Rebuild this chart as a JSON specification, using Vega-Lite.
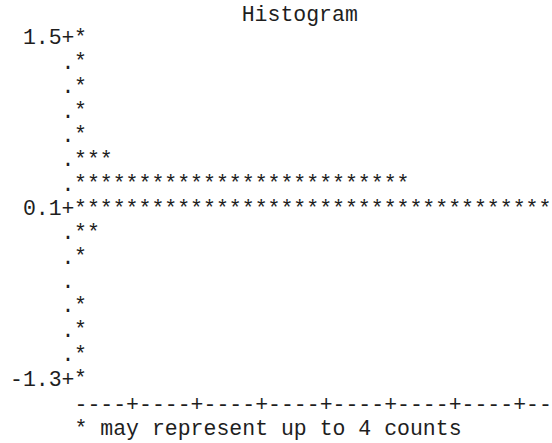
{
  "$schema": "https://vega.github.io/schema/vega-lite/v6.json",
  "width": 478,
  "height": 370,
  "autosize": {"type": "none"},
  "padding": {"left": 74, "top": 30, "right": 0, "bottom": 43},
  "background": "white",
  "title": {
    "text": "Histogram",
    "frame": "group",
    "anchor": "start",
    "dx": 167.7,
    "offset": -16,
    "baseline": "alphabetic",
    "font": "Liberation Mono",
    "fontSize": 21.5,
    "fontWeight": "normal",
    "color": "#1e1e1e"
  },
  "data": {
    "values": [
      {"bin": 1.5, "stars": 1},
      {"bin": 1.3, "stars": 1},
      {"bin": 1.1, "stars": 1},
      {"bin": 0.9, "stars": 1},
      {"bin": 0.7, "stars": 1},
      {"bin": 0.5, "stars": 3},
      {"bin": 0.3, "stars": 26},
      {"bin": 0.1, "stars": 37},
      {"bin": -0.1, "stars": 2},
      {"bin": -0.3, "stars": 1},
      {"bin": -0.5, "stars": 0},
      {"bin": -0.7, "stars": 1},
      {"bin": -0.9, "stars": 1},
      {"bin": -1.1, "stars": 1},
      {"bin": -1.3, "stars": 1}
    ]
  },
  "transform": [{"calculate": "pad('', datum.stars, '*')", "as": "bar"}],
  "mark": {
    "type": "text",
    "align": "left",
    "baseline": "alphabetic",
    "font": "Liberation Mono",
    "fontSize": 21.5,
    "color": "#1e1e1e"
  },
  "encoding": {
    "x": {
      "datum": 0,
      "type": "quantitative",
      "scale": {"domain": [0, 37.05], "nice": false, "zero": false},
      "axis": {
        "title": ["----+----+----+----+----+----+----+--", "* may represent up to 4 counts"],
        "labels": false,
        "ticks": false,
        "domain": false,
        "grid": false,
        "titleFont": "Liberation Mono",
        "titleFontSize": 21.5,
        "titleFontWeight": "normal",
        "titleColor": "#1e1e1e",
        "titleAnchor": "start",
        "titleAlign": "left",
        "titleBaseline": "alphabetic",
        "titleX": 0,
        "titleY": 10,
        "titleLineHeight": 24.4
      }
    },
    "y": {
      "field": "bin",
      "type": "quantitative",
      "scale": {"domain": [-1.4228, 1.6149], "nice": false, "zero": false},
      "axis": {
        "title": null,
        "values": [1.5, 1.3, 1.1, 0.9, 0.7, 0.5, 0.3, 0.1, -0.1, -0.3, -0.5, -0.7, -0.9, -1.1, -1.3],
        "labelExpr": "datum.value == 1.5 ? '1.5+' : datum.value == 0.1 ? '0.1+' : datum.value == -1.3 ? '-1.3+' : '.'",
        "labelFont": "Liberation Mono",
        "labelFontSize": 21.5,
        "labelColor": "#1e1e1e",
        "labelBaseline": "alphabetic",
        "labelAlign": "right",
        "labelPadding": 0,
        "labelOverlap": false,
        "labelBound": false,
        "labelFlush": false,
        "ticks": false,
        "tickSize": 0,
        "domain": false,
        "grid": false
      }
    },
    "text": {"field": "bar"}
  },
  "config": {"view": {"stroke": null}}
}
